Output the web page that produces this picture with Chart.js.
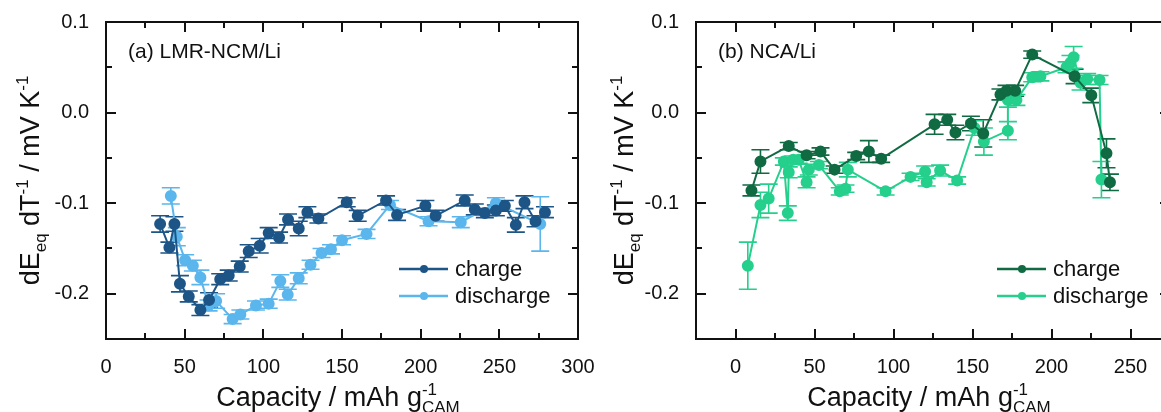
<!DOCTYPE html>
<html>
<head>
<meta charset="utf-8">
<script src="https://cdn.jsdelivr.net/npm/chart.js@4.4.1/dist/chart.umd.min.js"></script>
<style>
  html, body { margin: 0; padding: 0; background: #fff; }
  body { width: 1161px; height: 412px; overflow: hidden; position: relative; }
  .panel { position: absolute; top: 0; width: 600px; height: 412px; }
</style>
</head>
<body>
<div class="panel" style="left:0"><canvas id="chartA" width="600" height="412"></canvas></div>
<div class="panel" style="left:600px"><canvas id="chartB" width="600" height="412"></canvas></div>
<script>
// (a) LMR-NCM/Li
const aChargeX = [34.4, 40.3, 43.5, 47, 52.6, 60, 65.5, 72.6, 78, 85, 90.7, 97.7, 103.4, 110, 115.7, 122.5, 128, 135, 153, 160, 178, 185, 203, 209.5, 228, 234.4, 240.8, 247.8, 253.5, 260.5, 266, 273, 279];
const aChargeY = [-0.123, -0.149, -0.123, -0.189, -0.203, -0.218, -0.207, -0.184, -0.18, -0.17, -0.153, -0.147, -0.133, -0.138, -0.118, -0.128, -0.11, -0.117, -0.099, -0.114, -0.097, -0.113, -0.103, -0.114, -0.097, -0.107, -0.111, -0.108, -0.103, -0.124, -0.099, -0.12, -0.11];
const aChargeErr = [0.009, 0.006, 0.008, 0.009, 0.006, 0.006, 0.008, 0.006, 0.006, 0.006, 0.007, 0.008, 0.006, 0.006, 0.006, 0.008, 0.006, 0.005, 0.005, 0.006, 0.005, 0.006, 0.006, 0.006, 0.006, 0.006, 0.005, 0.006, 0.006, 0.008, 0.007, 0.006, 0.006];
const aDischargeX = [41.2, 45, 50.3, 55.2, 60, 65.2, 70, 80.5, 85.4, 95.3, 103.4, 110.8, 115.5, 122.5, 130, 137, 143, 150, 165.6, 180.5, 205, 225.5, 247.8, 276];
const aDischargeY = [-0.092, -0.137, -0.163, -0.169, -0.182, -0.213, -0.208, -0.228, -0.223, -0.213, -0.211, -0.186, -0.201, -0.183, -0.168, -0.155, -0.151, -0.141, -0.134, -0.102, -0.12, -0.121, -0.1, -0.123];
const aDischargeErr = [0.009, 0.01, 0.006, 0.006, 0.008, 0.006, 0.008, 0.005, 0.005, 0.005, 0.005, 0.007, 0.006, 0.006, 0.005, 0.005, 0.005, 0.005, 0.005, 0.005, 0.005, 0.006, 0.006, 0.03];

// (b) NCA/Li
const bChargeX = [10.1, 15.8, 33.7, 45, 53.8, 62.7, 76.4, 84.4, 92.2, 126, 134, 139.2, 149, 156.8, 167.7, 171.5, 177, 187.8, 214.6, 225.2, 234.8, 237];
const bChargeY = [-0.086, -0.054, -0.037, -0.047, -0.043, -0.063, -0.048, -0.043, -0.051, -0.013, -0.008, -0.022, -0.012, -0.023, 0.02, 0.024, 0.024, 0.064, 0.04, 0.019, -0.045, -0.077];
const bChargeErr = [0.006, 0.013, 0.004, 0.004, 0.004, 0.004, 0.004, 0.012, 0.004, 0.011, 0.006, 0.008, 0.008, 0.015, 0.006, 0.006, 0.006, 0.004, 0.008, 0.008, 0.016, 0.009];
const bDischargeX = [7.8, 15.8, 21, 30.6, 33.1, 33.7, 36.5, 40, 45, 46.4, 52.8, 66, 69.6, 71.1, 95, 110.8, 120, 121, 129.5, 140.3, 151.3, 157.2, 172.4, 172.4, 177.8, 187.8, 193, 209.5, 212, 214, 218.4, 222.6, 230.4, 231.6];
const bDischargeY = [-0.169, -0.102, -0.095, -0.054, -0.111, -0.066, -0.052, -0.052, -0.077, -0.063, -0.058, -0.087, -0.084, -0.063, -0.087, -0.071, -0.065, -0.077, -0.064, -0.075, -0.017, -0.032, -0.02, 0.014, 0.014, 0.039, 0.04, 0.05, 0.055, 0.061, 0.033, 0.037, 0.036, -0.074];
const bDischargeErr = [0.026, 0.014, 0.016, 0.004, 0.008, 0.006, 0.004, 0.004, 0.006, 0.006, 0.004, 0.004, 0.004, 0.008, 0.004, 0.004, 0.006, 0.004, 0.006, 0.004, 0.008, 0.015, 0.01, 0.008, 0.006, 0.005, 0.005, 0.006, 0.008, 0.012, 0.008, 0.006, 0.005, 0.02];

const aXTicks = [0, 50, 100, 150, 200, 250, 300];
const bXTicks = [0, 50, 100, 150, 200, 250];
const yTicks = [-0.2, -0.1, 0.0, 0.1];
const seriesNames = ['charge', 'discharge'];

const FONT = "'Liberation Sans', Arial, sans-serif";

function points(xs, ys) {
  return xs.map((x, i) => ({ x: x, y: ys[i] }));
}

// draws text pieces with sub/superscripts, centred at (cx, cy)
function drawRich(ctx, parts, cx, cy, size) {
  const small = Math.round(size * 0.64);
  let w = 0;
  parts.forEach(p => {
    if (p.s === 'n') { ctx.font = size + 'px ' + FONT; p.w = ctx.measureText(p.t).width; }
    else if (p.s === 'both') {
      ctx.font = small + 'px ' + FONT;
      p.w = Math.max(ctx.measureText(p.t).width, ctx.measureText(p.b).width);
    } else { ctx.font = small + 'px ' + FONT; p.w = ctx.measureText(p.t).width; }
    w += p.w;
  });
  let x = cx - w / 2;
  const base = cy + size * 0.35;
  ctx.textBaseline = 'alphabetic';
  ctx.textAlign = 'left';
  parts.forEach(p => {
    if (p.s === 'n') {
      ctx.font = size + 'px ' + FONT;
      ctx.fillText(p.t, x, base);
    } else if (p.s === 'sub') {
      ctx.font = small + 'px ' + FONT;
      ctx.fillText(p.t, x, base + size * 0.25);
    } else if (p.s === 'sup') {
      ctx.font = small + 'px ' + FONT;
      ctx.fillText(p.t, x, base - size * 0.42);
    } else {
      ctx.font = small + 'px ' + FONT;
      ctx.fillText(p.t, x, base - size * 0.42);
      ctx.fillText(p.b, x, base + size * 0.25);
    }
    x += p.w;
  });
}

const errorBars = {
  id: 'errorBars',
  beforeDatasetsDraw(chart) {
    const { ctx, scales: { x, y } } = chart;
    ctx.save();
    chart.data.datasets.forEach(ds => {
      ctx.strokeStyle = ds.borderColor;
      ctx.lineWidth = 1.6;
      ds.data.forEach((p, i) => {
        const e = ds.errors[i];
        const px = x.getPixelForValue(p.x);
        const top = y.getPixelForValue(p.y + e);
        const bot = y.getPixelForValue(p.y - e);
        ctx.beginPath();
        ctx.moveTo(px, top); ctx.lineTo(px, bot);
        ctx.moveTo(px - 9, top); ctx.lineTo(px + 9, top);
        ctx.moveTo(px - 9, bot); ctx.lineTo(px + 9, bot);
        ctx.stroke();
      });
    });
    ctx.restore();
  }
};

const frame = {
  id: 'frame',
  afterDraw(chart, args, opts) {
    const { ctx, chartArea: a, scales: { x, y } } = chart;
    ctx.save();
    ctx.strokeStyle = '#111';
    ctx.lineWidth = 2;
    ctx.strokeRect(a.left, a.top, a.right - a.left, a.bottom - a.top);
    ctx.beginPath();
    for (let v = x.min; v <= x.max + 1e-6; v += 25) {
      const major = Math.abs(v % 50) < 1e-6;
      const len = major ? 10 : 6;
      const px = Math.round(x.getPixelForValue(v));
      ctx.moveTo(px, a.bottom); ctx.lineTo(px, a.bottom - len);
      ctx.moveTo(px, a.top); ctx.lineTo(px, a.top + len);
    }
    for (let k = -5; k <= 2; k++) {
      const v = k * 0.05;
      const major = k % 2 === 0;
      const len = major ? 10 : 6;
      const py = Math.round(y.getPixelForValue(v));
      ctx.moveTo(a.left, py); ctx.lineTo(a.left + len, py);
      ctx.moveTo(a.right, py); ctx.lineTo(a.right - len, py);
    }
    ctx.stroke();

    // axis titles
    ctx.fillStyle = '#111';
    drawRich(ctx, [
      { t: 'Capacity / mAh g', s: 'n' },
      { t: '-1', b: 'CAM', s: 'both' }
    ], (a.left + a.right) / 2 - 4, 397, 27);
    ctx.save();
    ctx.translate(opts.yTitleX, (a.top + a.bottom) / 2);
    ctx.rotate(-Math.PI / 2);
    drawRich(ctx, [
      { t: 'dE', s: 'n' }, { t: 'eq', s: 'sub' },
      { t: ' dT', s: 'n' }, { t: '-1', s: 'sup' },
      { t: ' / mV K', s: 'n' }, { t: '-1', s: 'sup' }
    ], 0, 0, 27);
    ctx.restore();

    // panel label
    ctx.font = '21px ' + FONT;
    ctx.textAlign = 'left';
    ctx.textBaseline = 'middle';
    ctx.fillText(opts.label, a.left + 22, a.top + 30);

    // legend: line with dot
    chart.data.datasets.forEach((ds, i) => {
      const ly = a.top + opts.legendY + i * 27;
      const lx = a.left + opts.legendX;
      ctx.strokeStyle = ds.borderColor;
      ctx.fillStyle = ds.borderColor;
      ctx.lineWidth = 2.5;
      ctx.beginPath();
      ctx.moveTo(lx, ly); ctx.lineTo(lx + 49, ly);
      ctx.stroke();
      ctx.beginPath();
      ctx.arc(lx + 25, ly, 4, 0, Math.PI * 2);
      ctx.fill();
      ctx.fillStyle = '#111';
      ctx.font = '22px ' + FONT;
      ctx.textBaseline = 'middle';
      ctx.fillText(ds.label, lx + 56, ly + 1);
    });
    ctx.restore();
  }
};

// stop tick labels from pushing the plot area around
function noOverflow(s) {
  s.paddingTop = 0; s.paddingBottom = 0; s.paddingLeft = 0; s.paddingRight = 0;
}

function makeChart(id, cfg) {
  const mkDs = (label, xs, ys, errs, color) => ({
    label: label,
    data: points(xs, ys),
    errors: errs,
    borderColor: color,
    backgroundColor: color,
    showLine: true,
    borderWidth: 2,
    pointRadius: 5,
    pointHoverRadius: 5,
    tension: 0
  });
  return new Chart(document.getElementById(id), {
    type: 'scatter',
    data: {
      datasets: [
        mkDs(seriesNames[0], cfg.cx, cfg.cy, cfg.ce, cfg.colors[0]),
        mkDs(seriesNames[1], cfg.dx, cfg.dy, cfg.de, cfg.colors[1])
      ]
    },
    options: {
      responsive: false,
      animation: false,
      devicePixelRatio: 1,
      layout: { padding: { left: 0, top: 22, right: cfg.padRight, bottom: 0 } },
      plugins: {
        legend: { display: false },
        tooltip: { enabled: false },
        frame: { label: cfg.label, yTitleX: cfg.yTitleX, legendX: cfg.legendX, legendY: 247 }
      },
      scales: {
        x: {
          type: 'linear', min: cfg.xMin, max: cfg.xMax,
          afterBuildTicks: s => { s.ticks = cfg.xTicks.map(v => ({ value: v })); },
          afterFit: s => { s.height = 73; noOverflow(s); },
          grid: { display: false, drawTicks: false },
          border: { display: false },
          ticks: { color: '#111', padding: 16, maxRotation: 0, font: { family: FONT, size: 20 } }
        },
        y: {
          type: 'linear', min: -0.25, max: 0.1,
          afterBuildTicks: s => { s.ticks = yTicks.map(v => ({ value: v })); },
          afterFit: s => { s.width = cfg.yWidth; noOverflow(s); },
          grid: { display: false, drawTicks: false },
          border: { display: false },
          ticks: { color: '#111', padding: 17, font: { family: FONT, size: 20 }, callback: v => v.toFixed(1) }
        }
      }
    },
    plugins: [errorBars, frame]
  });
}

makeChart('chartA', {
  cx: aChargeX, cy: aChargeY, ce: aChargeErr,
  dx: aDischargeX, dy: aDischargeY, de: aDischargeErr,
  colors: ['#1d5587', '#5ab6ec'],
  xMin: 0, xMax: 300, xTicks: aXTicks,
  yWidth: 106, padRight: 22, yTitleX: 30,
  label: '(a) LMR-NCM/Li', legendX: 293
});

makeChart('chartB', {
  cx: bChargeX, cy: bChargeY, ce: bChargeErr,
  dx: bDischargeX, dy: bDischargeY, de: bDischargeErr,
  colors: ['#106a42', '#25cf8c'],
  xMin: -25, xMax: 275, xTicks: bXTicks,
  yWidth: 96, padRight: 30, yTitleX: 24,
  label: '(b) NCA/Li', legendX: 301
});
</script>
</body>
</html>
